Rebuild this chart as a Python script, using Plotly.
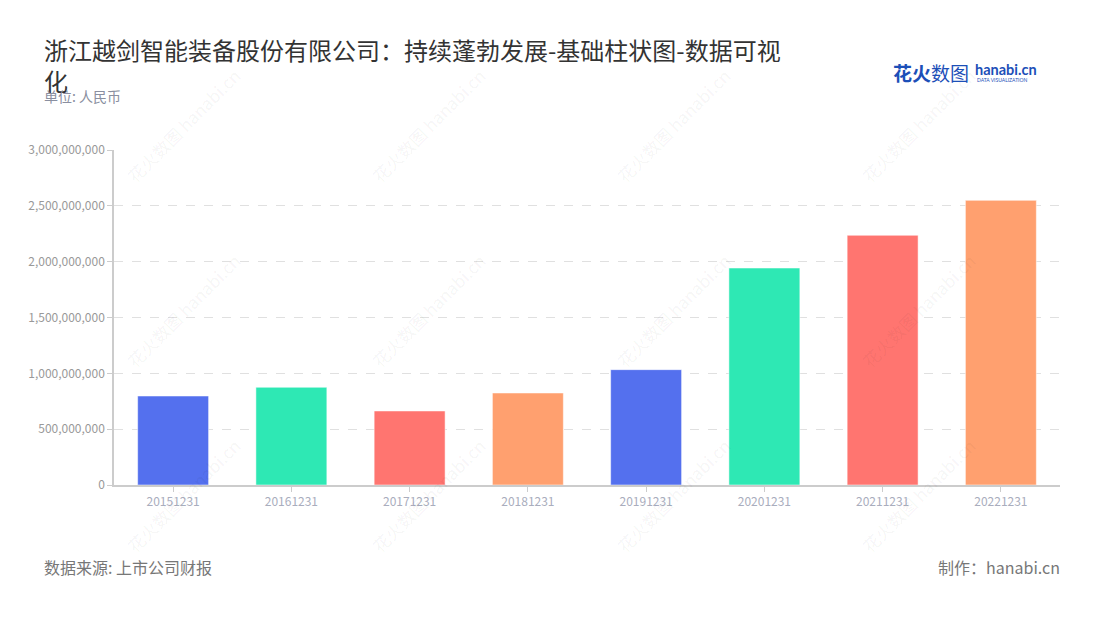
import plotly.graph_objects as go

# 数据：年末金额（人民币）
dates = ['20151231', '20161231', '20171231', '20181231',
         '20191231', '20201231', '20211231', '20221231']
values = [797000000, 875000000, 663000000, 824000000,
          1033000000, 1943000000, 2236000000, 2549000000]
bar_colors = ['#5470ee', '#2ee8b4', '#ff7570', '#ffa06f',
              '#5470ee', '#2ee8b4', '#ff7570', '#ffa06f']
y_ticks = [0, 500000000, 1000000000, 1500000000, 2000000000, 2500000000, 3000000000]

font_cn = 'Noto Sans CJK SC'

W, H = 1100, 620
OFF = 8  # page body margin shifts the figure
L, R, T, B = 114 - OFF, 40 + OFF, 150 - OFF, 135 + OFF


def px(x, y):
    # screen pixel position -> paper coords of the plot area
    x, y = x - OFF, y - OFF
    return (x - L) / (W - L - R), (H - B - y) / (H - T - B)


def note(text, x, y, size, color, anchor='left', family=font_cn, angle=0):
    xx, yy = px(x, y)
    return dict(text=text, x=xx, y=yy, xref='paper', yref='paper',
                xanchor=anchor, yanchor='middle', showarrow=False, textangle=angle,
                font=dict(family=family, size=size, color=color))


fig = go.Figure()
fig.add_trace(go.Bar(
    x=dates,
    y=values,
    marker=dict(color=bar_colors, line=dict(color='rgba(255,255,255,0.5)', width=1)),
    hoverinfo='x+y',
))

# watermark, faint and rotated
wm = []
for cx in [183, 428, 673, 918]:
    for cy in [125, 310, 495]:
        wm.append(note('花火数图 hanabi.cn', cx, cy, 17, 'rgba(0,0,0,0.05)',
                       anchor='center', angle=-45))

fig.update_layout(
    width=W,
    height=H,
    paper_bgcolor='white',
    plot_bgcolor='white',
    font=dict(family=font_cn, color='#999'),
    margin=dict(l=L, r=R, t=T, b=B),
    bargap=0.4,
    showlegend=False,
    title=dict(
        text='浙江越剑智能装备股份有限公司：持续蓬勃发展-基础柱状图-数据可视<br>化',
        x=36 / W, xanchor='left', y=1 - 52 / H, yanchor='top',
        font=dict(family=font_cn, size=24, color='#333'),
    ),
    xaxis=dict(
        type='category',
        automargin=False,
        showline=True, linecolor='#ccc', linewidth=1.5,
        ticks='outside', ticklen=5, tickcolor='#ccc',
        tickfont=dict(size=12, color='#a9adbd'),
        showgrid=False,
    ),
    yaxis=dict(
        range=[0, 3000000000],
        automargin=False,
        tickvals=y_ticks,
        tickformat=',d',
        showline=True, linecolor='#ccc', linewidth=1.5,
        ticks='outside', ticklen=5, tickcolor='#ccc',
        tickfont=dict(size=12, color='#999'),
        showgrid=True, gridcolor='#e0e0e0', griddash='dash', gridwidth=1,
        zeroline=False,
    ),
    annotations=wm + [
        note('单位: 人民币', 42, 96, 14, '#8a8fa0'),
        note('数据来源: 上市公司财报', 42, 567, 16, '#777'),
        note('制作：hanabi.cn', 1062, 567, 16, '#777', anchor='right'),
        note('<b>花火</b>数图', 891, 72, 19, '#1c4fb8'),
        note('<b>hanabi.cn</b>', 973, 69, 14.5, '#1c4fb8', family='Lato'),
        note('DATA VISUALIZATION', 975, 80, 5, '#1c4fb8', family='Lato'),
    ],
)

fig.write_html("out.html")
